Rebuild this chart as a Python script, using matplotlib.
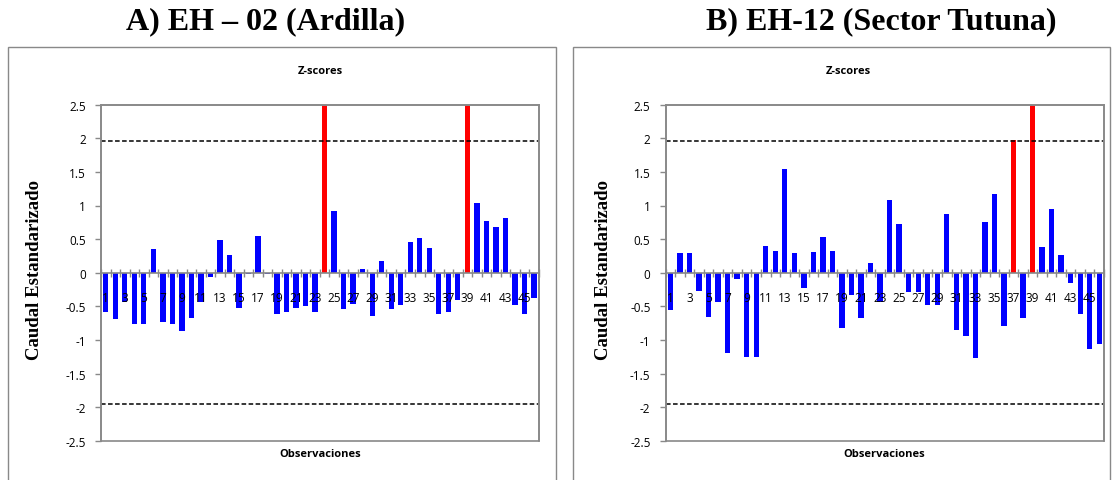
import numpy as np
import matplotlib.pyplot as plt
from matplotlib.patches import Rectangle

# Standardised flow (z-scores) per observation, 46 observations per station
obs = list(range(1, 47))

z_eh02 = [-0.59, -0.69, -0.43, -0.76, -0.77, 0.36, -0.74, -0.77, -0.87, -0.67,
          -0.43, -0.07, 0.48, 0.27, -0.53, -0.02, 0.55, -0.02, -0.62, -0.58,
          -0.53, -0.50, -0.58, 3.40, 0.92, -0.54, -0.47, 0.06, -0.64, 0.17,
          -0.54, -0.48, 0.45, 0.52, 0.37, -0.62, -0.58, -0.40, 2.90, 1.04,
          0.77, 0.68, 0.81, -0.48, -0.62, -0.38]

z_eh12 = [-0.55, 0.30, 0.30, -0.27, -0.66, -0.44, -1.20, -0.09, -1.25, -1.25,
          0.39, 0.32, 1.54, 0.30, -0.23, 0.31, 0.53, 0.32, -0.83, -0.33,
          -0.68, 0.15, -0.44, 1.08, 0.72, -0.28, -0.28, -0.48, -0.48, 0.88,
          -0.86, -0.94, -1.27, 0.75, 1.17, -0.79, 1.97, -0.67, 3.10, 0.38,
          0.95, 0.26, -0.15, -0.61, -1.13, -1.06]

limit = 1.96
yticks = [2.5, 2, 1.5, 1, 0.5, 0, -0.5, -1, -1.5, -2, -2.5]

GRAY = '#898989'
SANS = 'Open Sans'
SERIF = 'Liberation Serif'

fig = plt.figure(figsize=(11.16, 4.81), dpi=100)

# outer chart boxes (Excel style chart area)
fig.patches.append(Rectangle((8 / 1116, -0.01), 548 / 1116, 1 - 48 / 481 + 0.01,
                             transform=fig.transFigure, fill=False,
                             edgecolor=GRAY, lw=1.0))
fig.patches.append(Rectangle((573 / 1116, -0.01), 537 / 1116, 1 - 48 / 481 + 0.01,
                             transform=fig.transFigure, fill=False,
                             edgecolor=GRAY, lw=1.0))


def zplot(ax, values):
    x = np.array(obs)
    v = np.array(values)
    colors = np.where(np.abs(v) >= limit, '#ff0000', '#0000ff')
    ax.bar(x, v, width=0.56, color=colors, edgecolor='none', zorder=1)

    ax.axhline(limit, color='black', ls=(0, (3, 1.6)), lw=1.1, zorder=2)
    ax.axhline(-limit, color='black', ls=(0, (3, 1.6)), lw=1.1, zorder=2)

    ax.set_xlim(0.5, 46.5)
    ax.set_ylim(-2.5, 2.5)
    ax.set_yticks(yticks)
    ax.set_yticklabels([('%g' % t) for t in yticks], fontsize=8.5, family=SANS)
    ax.tick_params(axis='y', length=4, color=GRAY, width=1.0, pad=7)

    # category axis sits on zero
    ax.spines['bottom'].set_position(('data', 0))
    ax.spines['bottom'].set_color(GRAY)
    ax.spines['bottom'].set_linewidth(1.2)
    ax.set_xticks(np.arange(0.5, 47, 1))
    ax.set_xticklabels([])
    ax.tick_params(axis='x', which='major', direction='inout', length=6,
                   color=GRAY, width=1.0)
    ax.set_xticks(x[::2], minor=True)
    ax.set_xticklabels([str(i) for i in x[::2]], minor=True,
                       fontsize=8.5, family=SANS)
    ax.tick_params(axis='x', which='minor', length=0, pad=13)
    ax.xaxis.set_zorder(5)

    for s in ['left', 'top', 'right']:
        ax.spines[s].set_color(GRAY)
        ax.spines[s].set_linewidth(1.2)
    # bottom border of the plot area
    ax.add_patch(Rectangle((0, 0), 1, 1, transform=ax.transAxes, fill=False,
                           edgecolor=GRAY, lw=1.2, clip_on=False, zorder=3))


ax_a = fig.add_axes([101 / 1116, 1 - 441.7 / 481, 437.7 / 1116, 336 / 481])
zplot(ax_a, z_eh02)
ax_b = fig.add_axes([665.7 / 1116, 1 - 441.7 / 481, 438.3 / 1116, 336 / 481])
zplot(ax_b, z_eh12)

# headings and axis titles
fig.text(266 / 1116, 1 - 22 / 481, 'A) EH \u2013 02 (Ardilla)', ha='center',
         va='center', fontsize=23, fontweight='bold', family=SERIF)
fig.text(881 / 1116, 1 - 22 / 481, 'B) EH-12 (Sector Tutuna)', ha='center',
         va='center', fontsize=23, fontweight='bold', family=SERIF)

for cx in (320, 848):
    fig.text(cx / 1116, 1 - 72 / 481, 'Z-scores', ha='center', va='center',
             fontsize=8, fontweight='bold', family=SANS)
for cx in (320, 884):
    fig.text(cx / 1116, 1 - 455 / 481, 'Observaciones', ha='center',
             va='center', fontsize=8, fontweight='bold', family=SANS)
for cx in (35, 603):
    fig.text(cx / 1116, 1 - 270 / 481, 'Caudal Estandarizado', ha='center',
             va='center', rotation=90, fontsize=13.5, fontweight='bold',
             family=SERIF)

fig.savefig('out.png', dpi=100)
